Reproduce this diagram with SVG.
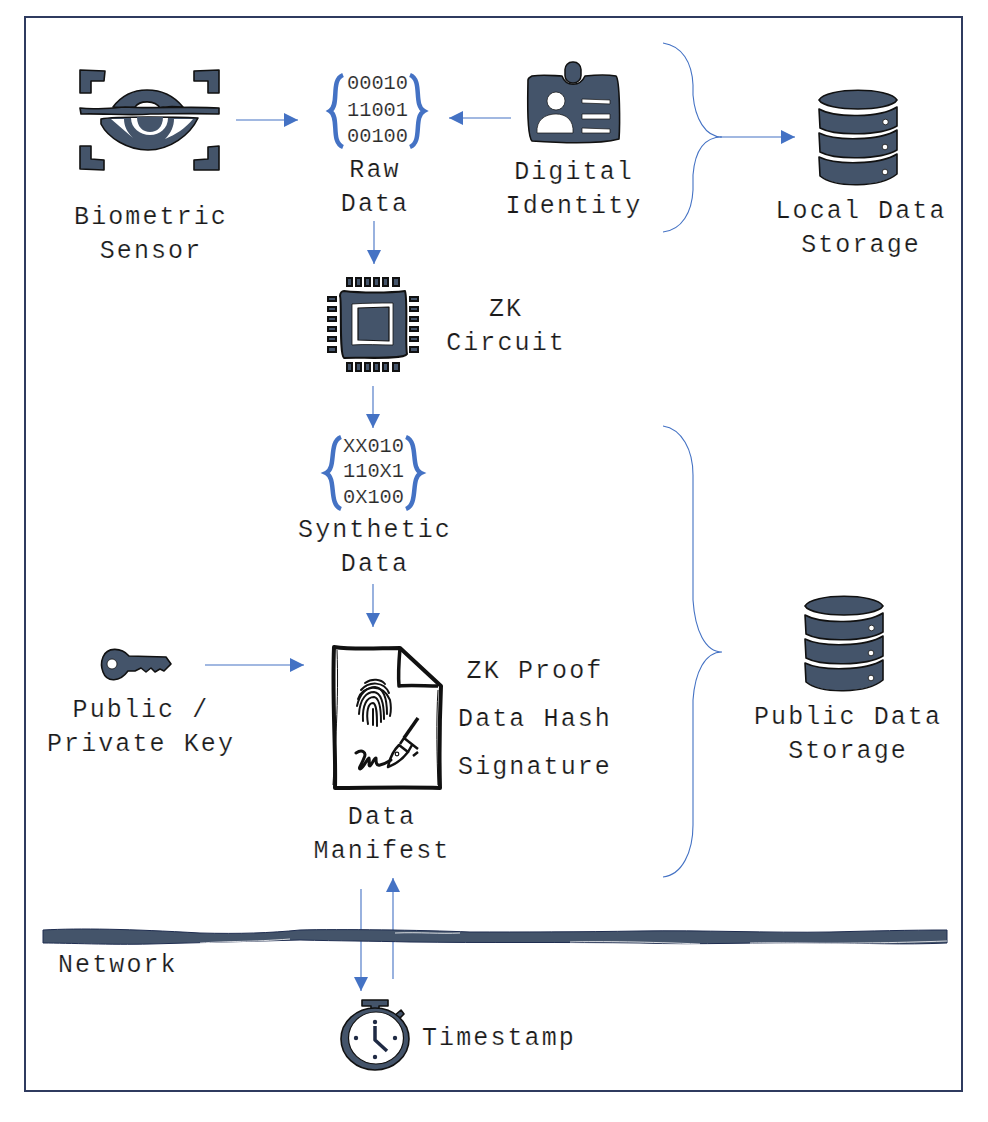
<svg xmlns="http://www.w3.org/2000/svg" width="988" height="1122" viewBox="0 0 988 1122">
<style>
.t{font-family:"Liberation Mono","Courier New",monospace;font-size:25px;letter-spacing:2.1px;fill:#1a1a1a;stroke:#fff;stroke-width:.2px;text-anchor:middle}
.l{text-anchor:start}
.d{font-family:"Liberation Mono","Courier New",monospace;font-size:20.4px;fill:#2a2a2a;stroke:#fff;stroke-width:.15px;text-anchor:middle}
.c{fill:none;stroke:#4472C4;stroke-width:1.1}
.b{fill:none;stroke:#4472C4;stroke-width:4.5}
.i{fill:#44546A;stroke:#111;stroke-width:1.6;stroke-linejoin:round}
.w{fill:#fff;stroke:#111;stroke-width:.8}
.f{fill:none;stroke:#111;stroke-width:2;stroke-linecap:round}
</style>
<defs>
<marker id="a" markerUnits="userSpaceOnUse" markerWidth="15" markerHeight="14" refX="14" refY="7" orient="auto"><path d="M0,0L14,7L0,14Z" fill="#4472C4"/></marker>
<g id="db">
<path class="i" d="M819,100C826,87 890,87 897,100C890,112 826,112 819,100Z"/>
<path class="i" d="M819,109C835,118 880,118 897,107L897,126C880,136 835,136 820,128Z"/>
<path class="i" d="M819,133C835,141 880,141 897,130L897,150C880,160 835,160 820,152Z"/>
<path class="i" d="M819,157C835,165 880,165 897,154L897,174C880,188 835,188 820,176Z"/>
<circle class="w" cx="885.500" cy="122" r="2.800"/><circle class="w" cx="885" cy="147" r="2.800"/><circle class="w" cx="885" cy="172" r="2.800"/>
</g>
</defs>

<rect x="25" y="17" width="937" height="1074" fill="#fff" stroke="#2F3B5F" stroke-width="2"/>

<g id="connectors">
<path class="c" marker-end="url(#a)" d="M236,120H298"/>
<path class="c" marker-end="url(#a)" d="M511,118H449"/>
<path class="c" marker-end="url(#a)" d="M374,221V264"/>
<path class="c" marker-end="url(#a)" d="M373,386V428"/>
<path class="c" marker-end="url(#a)" d="M373,584V627"/>
<path class="c" marker-end="url(#a)" d="M205,665H304"/>
<path class="c" marker-end="url(#a)" d="M361,889V991"/>
<path class="c" marker-end="url(#a)" d="M393,979V878"/>
<path class="c" marker-end="url(#a)" d="M720,137H795"/>
<path class="c" d="M663,43C682,46 692,62 693,85V95C695,118 705,137 722,137C705,137 695,150 693,175V190C692,212 682,230 663,232"/>
<path class="c" d="M663,426C682,429 693,450 693,475V600C695,630 705,652 722,652C705,652 695,672 693,700V825C693,852 682,875 663,877"/>
</g>

<g id="biometric-sensor">
<path class="i" d="M80,70L105,71L104,81L91,81L91,93L80,93Z"/>
<path class="i" d="M194,71L219,70L219,93L208,93L208,81L194,81Z"/>
<path class="i" d="M80,146L91,146L91,159L104,160L104,170L80,169Z"/>
<path class="i" d="M208,147L219,146L219,170L194,170L194,160L208,159Z"/>
<path class="i" d="M113,107C122,95 135,90 147,90C162,90 174,96 183,107C170,106 165,106 160,108C155,100 140,100 135,107C128,108 120,108 113,107Z"/>
<path class="i" d="M80,108C95,110 110,108 125,107C150,109 190,106 219,108L219,114C190,113 170,114 150,114C130,116 100,113 81,114Z"/>
<path class="i" d="M101,119C115,116 180,117 198,118C190,135 170,150 148,150C128,150 108,138 101,124Z"/>
<path fill="#fff" d="M111,119H124C124,126 127,132 133,138ZM174,119H193C186,128 175,135 165,139C171,133 174,126 174,119Z"/>
<path fill="#fff" d="M131,118H168C168,128 160,135 150,135C140,135 131,128 131,118Z"/>
<path fill="#44546A" d="M137,117H163C163,127 157,132 150,132C143,132 137,127 137,117Z"/>
<text class="t" x="151" y="224">Biometric</text>
<text class="t" x="151" y="258">Sensor</text>
</g>

<g id="raw-data">
<path class="b" d="M343,75C330,80 340,105 330,111C340,117 330,142 343,147"/>
<path class="b" d="M410,75C423,80 413,105 424,111C413,117 423,142 410,147"/>
<text class="d" x="377.500" y="89">00010</text>
<text class="d" x="377.500" y="116">11001</text>
<text class="d" x="377.500" y="142">00100</text>
<text class="t" x="375" y="177">Raw</text>
<text class="t" x="375" y="211">Data</text>
</g>

<g id="digital-identity">
<path class="i" d="M532,76C545,74 555,76 562,76C566,87 580,87 585,76C595,75 610,75 616,76C620,80 620,125 619,139C600,144 560,143 532,141C526,135 528,90 528,80C528,78 530,77 532,76Z"/>
<rect x="565" y="62" width="16" height="21" rx="7.500" fill="#44546A" stroke="#111" stroke-width="1.500"/>
<circle cx="556" cy="101" r="9" fill="#fff" stroke="#111" stroke-width=".7"/>
<path fill="#fff" stroke="#111" stroke-width=".7" d="M537,133C536,120 545,114 556,114C566,114 574,120 573,133Z"/>
<path fill="#fff" stroke="#111" stroke-width=".7" d="M582,99L610,100V104L582,103ZM582,114H610V119H582ZM582,128L610,129V133H582Z"/>
<text class="t" x="574" y="179">Digital</text>
<text class="t" x="574" y="213">Identity</text>
</g>

<g id="local-data-storage">
<use href="#db"/>
<text class="t" x="861" y="218">Local Data</text>
<text class="t" x="861" y="252">Storage</text>
</g>

<g id="zk-circuit">
<path fill="#111" d="M346,277h7v10h-7zM355,277h7v10h-7zM364,277h7v10h-7zM373,277h7v10h-7zM382,277h7v10h-7zM392,277h8v10h-8zM346,362h7v10h-7zM355,362h7v10h-7zM364,362h7v10h-7zM373,362h7v10h-7zM382,362h7v10h-7zM392,362h8v10h-8zM327,296h10v6h-10zM327,306h10v6h-10zM327,316h10v6h-10zM327,326h10v6h-10zM327,336h10v6h-10zM327,346h10v7h-10zM409,296h10v6h-10zM409,306h10v6h-10zM409,316h10v6h-10zM409,326h10v6h-10zM409,336h10v6h-10zM409,346h10v7h-10z"/>
<path fill="#44546A" d="M348,279h3v6h-3zM357,279h3v6h-3zM366,279h3v6h-3zM375,279h3v6h-3zM384,279h3v6h-3zM394,279h4v6h-4zM348,364h3v6h-3zM357,364h3v6h-3zM366,364h3v6h-3zM375,364h3v6h-3zM384,364h3v6h-3zM394,364h4v6h-4zM329,298h6v2h-6zM329,308h6v2h-6zM329,318h6v2h-6zM329,328h6v2h-6zM329,338h6v2h-6zM329,348h6v3h-6zM411,298h6v2h-6zM411,308h6v2h-6zM411,318h6v2h-6zM411,328h6v2h-6zM411,338h6v2h-6zM411,348h6v3h-6z"/>
<path class="i" d="M344,291C360,293 390,293 405,291C408,300 405,345 407,354C404,360 360,357 344,358C339,355 342,300 340,296C340,293 342,291 344,291Z" style="stroke-width:2"/>
<path fill="#fff" stroke="#111" stroke-width=".8" d="M352,304C365,303 380,303 393,303L393,345C380,345 365,344 352,345Z"/>
<path class="i" d="M358,308L389,307L389,341L358,340Z" style="stroke-width:1.2"/>
<text class="t" x="506" y="316">ZK</text>
<text class="t" x="506" y="350">Circuit</text>
</g>

<g id="synthetic-data">
<path class="b" d="M341,437C328,442 337,468 326,473C337,478 328,504 341,509"/>
<path class="b" d="M406,437C419,442 410,468 421,473C410,478 419,504 406,509"/>
<text class="d" x="373.500" y="452">XX010</text>
<text class="d" x="373.500" y="477">110X1</text>
<text class="d" x="373.500" y="503">0X100</text>
<text class="t" x="375" y="537">Synthetic</text>
<text class="t" x="375" y="571">Data</text>
</g>

<g id="key">
<path class="i" d="M103,657C107,647 121,647 129,656L166,657L171,664L164,671L160,669L155,672L151,668L146,672L141,668L135,671L128,671C120,682 107,683 103,672C101,667 101,662 103,657Z"/>
<circle class="w" cx="112" cy="664" r="5"/>
<text class="t" x="141" y="717">Public /</text>
<text class="t" x="141" y="751">Private Key</text>
</g>

<g id="data-manifest">
<path fill="none" stroke="#111" stroke-width="4" stroke-linejoin="round" d="M334,647C355,650 380,648 400,648L441,686C440,710 439,750 440,788C405,787 365,788 335,788C336,750 332,700 334,647Z"/>
<path fill="none" stroke="#111" stroke-width="1" d="M337,650C339,700 335,750 333,785M438,690C436,720 437,760 438,785"/>
<path fill="none" stroke="#111" stroke-width="3.500" stroke-linejoin="round" d="M400,648C399,660 398,675 399,686C410,685 425,686 438,686"/>
<path class="f" d="M365,683C372,678 381,679 385,684"/>
<path class="f" d="M361,690C369,681 384,681 389,693"/>
<path class="f" d="M358,699C362,686 382,682 390,700C391,705 391,712 390,716"/>
<path class="f" d="M357,706C360,692 368,687 375,687C384,688 387,700 387,714"/>
<path class="f" d="M359,714C360,698 367,692 374,692C382,693 384,705 384,719"/>
<path class="f" d="M363,721C362,705 367,697 374,697C380,698 381,710 381,722"/>
<path class="f" d="M368,724C366,712 368,703 373,703C377,704 377,716 377,726"/>
<path class="f" d="M373,709V725"/>
<path fill="none" stroke="#111" stroke-width="3" stroke-linecap="round" stroke-linejoin="round" d="M356,753C362,749 367,752 364,758C362,764 358,768 360,769C364,768 366,760 369,758C370,762 368,766 370,766C373,763 374,758 376,758C376,762 376,766 380,765C384,764 388,762 391,760"/>
<path fill="none" stroke="#111" stroke-width="2.500" stroke-linejoin="round" d="M388,767C390,757 394,750 399,745L408,752C402,760 396,764 388,767Z"/>
<path fill="none" stroke="#111" stroke-width="2.500" stroke-linejoin="round" d="M400,744L404,738L418,749M408,752L412,745M413,756L418,752"/>
<path fill="none" stroke="#111" stroke-width="3.500" d="M404,738L418,718"/>
<circle cx="397" cy="754" r="1.800" fill="none" stroke="#111" stroke-width="1.200"/>
<text class="t" x="382" y="824">Data</text>
<text class="t" x="382" y="858">Manifest</text>
</g>

<g id="manifest-fields">
<text class="t" x="535" y="678">ZK Proof</text>
<text class="t" x="535" y="726">Data Hash</text>
<text class="t" x="535" y="774">Signature</text>
</g>

<g id="public-data-storage">
<use href="#db" transform="translate(-14,506)"/>
<text class="t" x="848" y="724">Public Data</text>
<text class="t" x="848" y="758">Storage</text>
</g>

<g id="network">
<path fill="#44546A" stroke="#1f2d50" stroke-width="1" d="M43,930C80,928 130,929 200,933C240,934 270,933 300,930C340,929 420,930 470,932C520,932 580,932 640,931C700,930 770,933 830,932C870,931 910,930 947,930V943C900,945 870,943 820,943C760,942 700,945 640,943C570,942 480,943 410,942C370,941 340,941 300,940C250,941 200,943 150,944C110,945 70,943 43,943Z"/>
<path fill="none" stroke="#fff" stroke-width=".8" d="M395,933C420,932 440,934 460,933M570,942C600,941 650,942 700,944M750,943C790,942 830,945 947,941M200,943C230,941 250,942 290,939"/>
<text class="t l" x="58" y="972">Network</text>
</g>

<g id="timestamp">
<path class="i" d="M362,1000H388V1006H379V1012H371V1006H362Z"/>
<path class="i" d="M394,1016L401,1010L404,1014L398,1020Z"/>
<ellipse class="i" cx="375" cy="1039" rx="34" ry="31"/>
<ellipse cx="376" cy="1038" rx="27.500" ry="26" fill="#fff" stroke="#111" stroke-width="1.200"/>
<path fill="none" stroke="#1f2a44" stroke-width="3.500" stroke-linejoin="round" d="M375,1026V1040L387,1051"/>
<circle cx="375" cy="1022" r="2.200" fill="#1f2a44"/><circle cx="395" cy="1038" r="2.200" fill="#1f2a44"/><circle cx="356" cy="1038" r="2.200" fill="#1f2a44"/><circle cx="375" cy="1057" r="2.200" fill="#1f2a44"/>
<text class="t l" x="422" y="1045">Timestamp</text>
</g>
</svg>
